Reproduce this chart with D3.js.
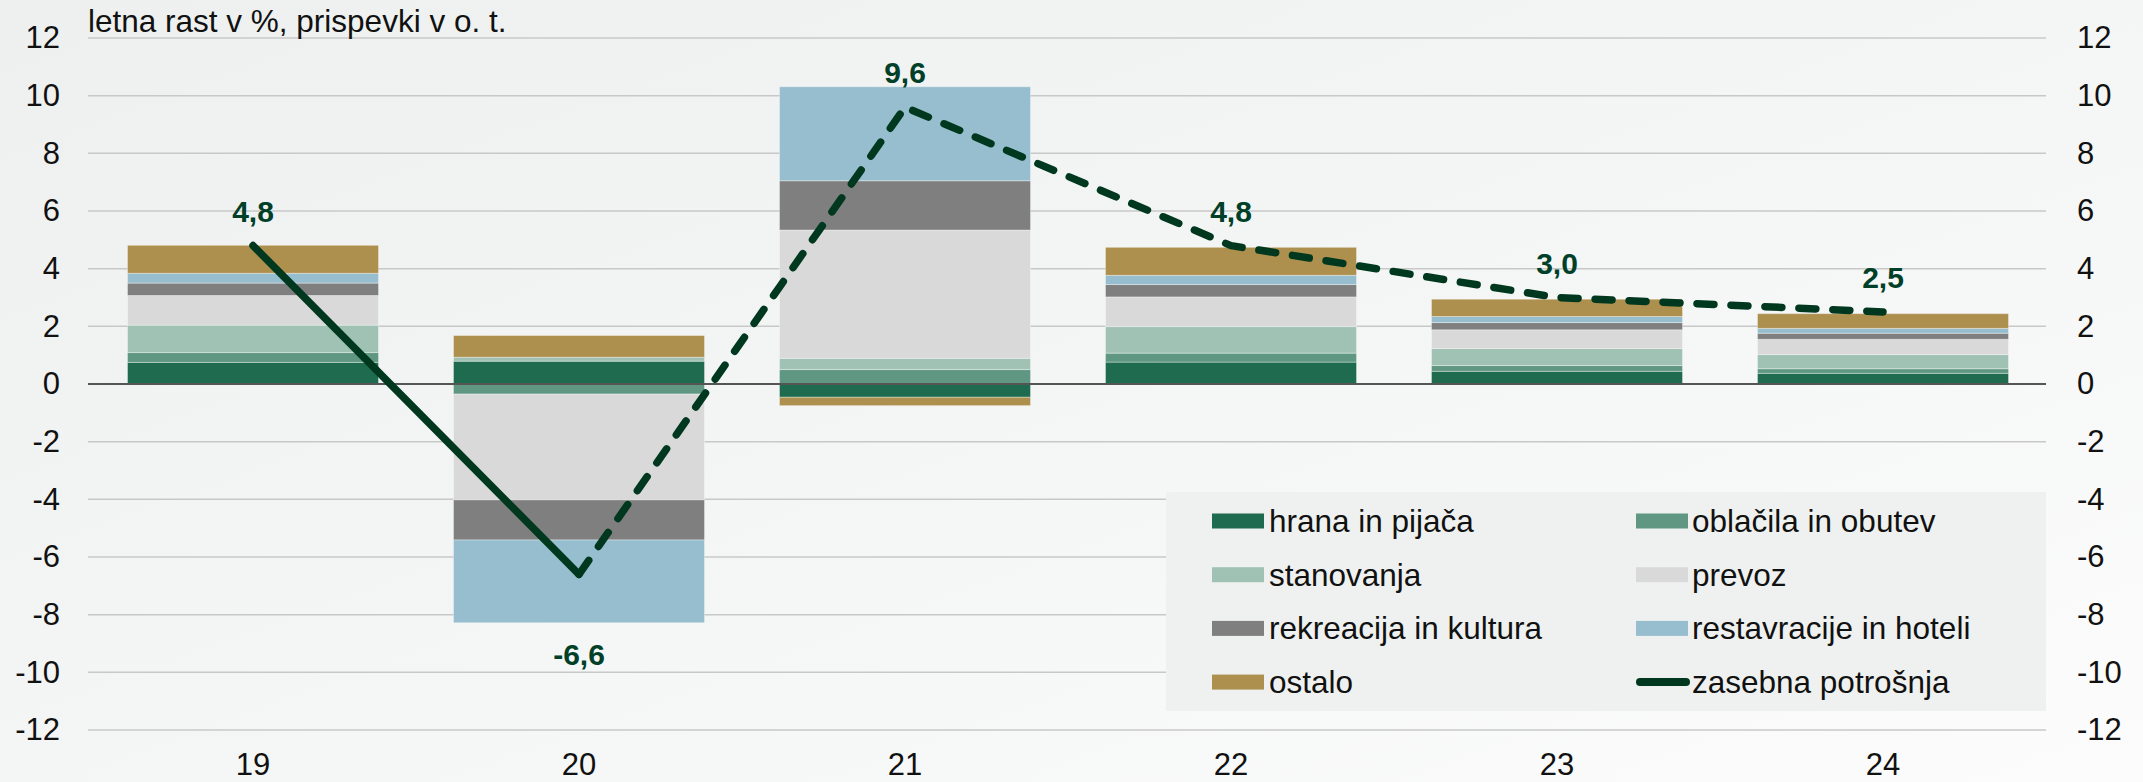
<!DOCTYPE html>
<html>
<head>
<meta charset="utf-8">
<script src="https://cdn.jsdelivr.net/npm/d3@7"></script>
<style>
  html, body { margin: 0; padding: 0; }
  svg { display: block; font-family: "Liberation Sans", Arial, sans-serif; }
</style>
</head>
<body>
<svg width="2143" height="782"></svg>
<script>
// categories (years) and contributions in p.p.
var years = ["19", "20", "21", "22", "23", "24"];
var hrana        = [0.75,  0.79, -0.46, 0.76, 0.44, 0.37];
var oblacila     = [0.34, -0.35,  0.50, 0.31, 0.20, 0.16];
var stanovanja   = [0.95,  0.14,  0.39, 0.92, 0.59, 0.49];
var prevoz       = [1.03, -3.67,  4.45, 1.03, 0.65, 0.53];
var rekreacija   = [0.43, -1.39,  1.71, 0.43, 0.25, 0.21];
var restavracije = [0.34, -2.87,  3.26, 0.32, 0.21, 0.17];
var ostalo       = [0.97,  0.75, -0.29, 0.97, 0.60, 0.51];
var potrosnja    = [4.8, -6.6, 9.6, 4.8, 3.0, 2.5];
var yTicks = [-12, -10, -8, -6, -4, -2, 0, 2, 4, 6, 8, 10, 12];

var seriesNames = ["hrana in pijača", "oblačila in obutev", "stanovanja", "prevoz",
  "rekreacija in kultura", "restavracije in hoteli", "ostalo"];
var seriesVals = [hrana, oblacila, stanovanja, prevoz, rekreacija, restavracije, ostalo];
var colors = ["#1e6b50", "#5f9783", "#a0c2b5", "#d9d9d9", "#7f7f7f", "#97bece", "#ad8f4e"];
var lineName = "zasebna potrošnja";
var lineColor = "#00381f";

var width = 2143, height = 782;
var margin = {top: 38, right: 97, bottom: 52, left: 90};

var rows = years.map(function(yr, i) {
  var r = {year: yr};
  seriesNames.forEach(function(n, k) { r[n] = seriesVals[k][i]; });
  return r;
});

var svg = d3.select("svg");

// background gradient
var defs = svg.append("defs");
var grad = defs.append("linearGradient").attr("id", "bg")
  .attr("x1", 0).attr("y1", 0).attr("x2", 1).attr("y2", 1);
grad.append("stop").attr("offset", "0%").attr("stop-color", "#edf0ef");
grad.append("stop").attr("offset", "100%").attr("stop-color", "#fbfcfb");
svg.append("rect").attr("width", width).attr("height", height).attr("fill", "url(#bg)");

var x = d3.scaleBand()
  .domain(years)
  .range([margin.left, width - margin.right])
  .paddingInner(0.23)
  .paddingOuter(0.115);

var y = d3.scaleLinear()
  .domain([-12, 12])
  .range([height - margin.bottom, margin.top]);

var gridLeft = 88, gridRight = width - margin.right;
var fmt = d => String(d); // plain hyphen minus, like the original

// gridlines
svg.append("g").selectAll("line")
  .data(yTicks.filter(d => d != 0))
  .join("line")
  .attr("x1", gridLeft).attr("x2", gridRight)
  .attr("y1", d => y(d)).attr("y2", d => y(d))
  .attr("stroke", "#c8c8c8").attr("stroke-width", 1.5);

// axes labels
var axL = svg.append("g")
  .attr("transform", "translate(" + gridLeft + ",0)")
  .call(d3.axisLeft(y).tickValues(yTicks).tickFormat(fmt).tickSize(0).tickPadding(28));
var axR = svg.append("g")
  .attr("transform", "translate(" + gridRight + ",0)")
  .call(d3.axisRight(y).tickValues(yTicks).tickFormat(fmt).tickSize(0).tickPadding(31));
var axB = svg.append("g")
  .attr("transform", "translate(0," + y(-12) + ")")
  .call(d3.axisBottom(x).tickSize(0).tickPadding(23));
[axL, axR, axB].forEach(function(a) {
  a.select(".domain").remove();
  a.selectAll("text").attr("font-size", 31).attr("fill", "#111")
    .attr("font-family", "'Liberation Sans', Arial, sans-serif");
});

// stacked bars
var stack = d3.stack().keys(seriesNames).offset(d3.stackOffsetDiverging);
var series = stack(rows);

svg.append("g").selectAll("g")
  .data(series)
  .join("g")
  .attr("fill", (d, i) => colors[i])
  .selectAll("rect")
  .data(d => d)
  .join("rect")
  .attr("x", d => x(d.data.year))
  .attr("width", x.bandwidth())
  .attr("y", d => y(Math.max(d[0], d[1])))
  .attr("height", d => Math.abs(y(d[0]) - y(d[1])))
  .attr("stroke", "#ffffff").attr("stroke-opacity", 0.35).attr("stroke-width", 1);

// zero line
svg.append("line")
  .attr("x1", gridLeft).attr("x2", gridRight)
  .attr("y1", y(0)).attr("y2", y(0))
  .attr("stroke", "#555").attr("stroke-width", 2);

// line: solid first segment, dashed rest
var pts = years.map((yr, i) => [x(yr) + x.bandwidth() / 2, y(potrosnja[i])]);
var line = d3.line();
svg.append("path")
  .attr("d", line(pts.slice(0, 2)))
  .attr("fill", "none").attr("stroke", lineColor)
  .attr("stroke-width", 7.5).attr("stroke-linecap", "round").attr("stroke-linejoin", "round");
svg.append("path")
  .attr("d", line(pts.slice(1)))
  .attr("fill", "none").attr("stroke", lineColor)
  .attr("stroke-width", 7.5).attr("stroke-linecap", "round").attr("stroke-linejoin", "round")
  .attr("stroke-dasharray", "17,17");

// value labels
var mins = years.map((yr, i) => d3.min(series, s => s[i][0]));
svg.append("g").selectAll("text")
  .data(potrosnja)
  .join("text")
  .attr("x", (d, i) => pts[i][0])
  .attr("y", (d, i) => d < 0 ? y(mins[i]) + 42 : pts[i][1] - 24)
  .attr("text-anchor", "middle")
  .attr("font-size", 30).attr("font-weight", "bold")
  .attr("fill", "#004028")
  .text(d => d3.format(".1f")(d).replace(".", ",").replace("−", "-"));

// title
svg.append("text")
  .attr("x", 88).attr("y", 32)
  .attr("font-size", 31.5).attr("fill", "#111")
  .text("letna rast v %, prispevki v o. t.");

// legend
var lg = svg.append("g");
lg.append("rect")
  .attr("x", 1166).attr("y", 492).attr("width", gridRight - 1166).attr("height", 219)
  .attr("fill", "#eff1f0");
var legendItems = seriesNames.concat([lineName]);
var item = lg.selectAll("g.item")
  .data(legendItems)
  .join("g")
  .attr("class", "item")
  .attr("transform", (d, i) => "translate(" + (i % 2 ? 1636 : 1212) + "," + (521 + Math.floor(i / 2) * 53.7) + ")");
item.each(function(d, i) {
  var g = d3.select(this);
  if (i < seriesNames.length) {
    g.append("rect").attr("x", 0).attr("y", -7.5).attr("width", 52).attr("height", 15).attr("fill", colors[i]);
  } else {
    g.append("line").attr("x1", 4).attr("x2", 50).attr("y1", 0).attr("y2", 0)
      .attr("stroke", lineColor).attr("stroke-width", 8).attr("stroke-linecap", "round");
  }
  g.append("text").attr("x", i % 2 ? 56 : 57).attr("y", 11)
    .attr("font-size", 31.5).attr("fill", "#111").text(d);
});
</script>
</body>
</html>
